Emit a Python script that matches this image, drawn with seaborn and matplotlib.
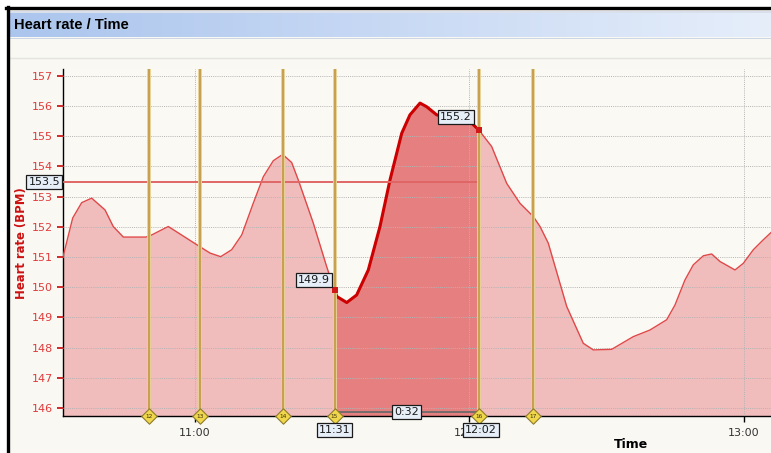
import numpy as np
import pandas as pd
import matplotlib
matplotlib.use("Agg")
import matplotlib.pyplot as plt
import matplotlib.patheffects as pe
from matplotlib.colors import LinearSegmentedColormap
import seaborn as sns

# ---------------- data ----------------
times = ["10:31:09", "10:33:16", "10:35:14", "10:37:25", "10:40:20", "10:42:08",
         "10:44:20", "10:49:17", "10:50:32", "10:54:10", "11:01:05", "11:03:17",
         "11:05:37", "11:08:01", "11:10:13", "11:12:44", "11:14:56", "11:17:07",
         "11:19:10", "11:21:08", "11:22:35", "11:25:52", "11:28:47", "11:30:30",
         "11:31:00", "11:33:10", "11:35:20", "11:37:53", "11:40:26", "11:42:37",
         "11:45:11", "11:46:59", "11:49:11", "11:50:38", "11:52:50", "12:00:07",
         "12:02:05", "12:04:51", "12:08:08", "12:11:02", "12:13:57", "12:15:25",
         "12:17:13", "12:21:15", "12:24:52", "12:27:04", "12:31:05", "12:35:48",
         "12:39:27", "12:43:06", "12:44:55", "12:47:06", "12:48:55", "12:51:07",
         "12:52:56", "12:54:45", "12:58:02", "12:59:51", "13:02:02", "13:04:13",
         "13:05:54"]
heart_rate = [151.0, 152.29, 152.80, 152.95, 152.56, 152.01,
              151.66, 151.66, 151.73, 152.01, 151.34, 151.13,
              151.01, 151.24, 151.73, 152.78, 153.66, 154.19,
              154.40, 154.13, 153.55, 152.12, 150.68, 149.9,
              149.69, 149.49, 149.74, 150.57, 152.01, 153.55,
              155.10, 155.71, 156.10, 155.98, 155.71, 155.49,
              155.2, 154.66, 153.44, 152.78, 152.34, 152.01,
              151.46, 149.36, 148.14, 147.92, 147.94, 148.36,
              148.58, 148.92, 149.41, 150.24, 150.74, 151.04,
              151.10, 150.85, 150.57, 150.79, 151.24, 151.57,
              151.81]

lap_times = ["10:49:57", "11:01:06", "11:19:14", "11:30:30", "12:02:05", "12:13:53"]
lap_numbers = ["12", "13", "14", "15", "16", "17"]

sel_start = "11:30:30"
sel_end = "12:02:05"
sel_start_hr = 149.9
sel_end_hr = 155.2
sel_avg = 153.5
sel_start_label = "11:31"
sel_end_label = "12:02"
sel_duration = "0:32"

x_tick_labels = ["11:00", "12:00", "13:00"]
y_ticks = [146, 147, 148, 149, 150, 151, 152, 153, 154, 155, 156, 157]

title = "Heart rate / Time"
y_label = "Heart rate (BPM)"
x_label = "Time"


def to_min(s):
    parts = [int(p) for p in s.split(":")]
    if len(parts) == 2:
        parts.append(0)
    h, m, sec = parts
    return h * 60 + m + sec / 60.0


df = pd.DataFrame({"t": [to_min(t) for t in times], "hr": heart_rate})
t0, t1 = to_min(sel_start), to_min(sel_end)
sel = df[(df.t >= t0 - 1e-9) & (df.t <= t1 + 1e-9)]
lap_x = [to_min(t) for t in lap_times]
xt = [to_min(t) for t in x_tick_labels]

XMIN, XMAX = 631.15, 785.9
YMIN, YMAX = 145.73, 157.23

# ---------------- figure ----------------
W, H = 771, 453
fig = plt.figure(figsize=(W / 100, H / 100), dpi=100)
fig.patch.set_facecolor("white")

bg = fig.add_axes([0, 0, 1, 1], zorder=0)
bg.set_xlim(0, W)
bg.set_ylim(H, 0)
bg.axis("off")
bg.add_patch(plt.Rectangle((9, 10), W - 9, H - 10, fc="#f9f8f3", ec="none"))
grad = np.linspace(0, 1, 256).reshape(1, -1)
cm = LinearSegmentedColormap.from_list("hdr", ["#abc5ed", "#c8d9f4", "#e6eefa"])
bg.imshow(grad, cmap=cm, extent=(10, W, 37, 13), aspect="auto", zorder=1)
bg.plot([10, W], [12, 12], color="#d3dcea", lw=1.2, zorder=2)
bg.plot([10, W], [37.5, 37.5], color="#c4d0e2", lw=0.6, zorder=2)
bg.plot([9, W], [57.5, 57.5], color="#e4e4e0", lw=1.0, zorder=2)
bg.plot([6, W], [8, 8], color="black", lw=2.4, zorder=3)
bg.plot([7.5, 7.5], [7, H], color="black", lw=2.4, zorder=3)
bg.text(14, 25, title, fontsize=10.5, fontweight="bold", family="Liberation Sans",
        ha="left", va="center", color="black", zorder=4)

ax = fig.add_axes([63 / W, 1 - 416 / H, (W - 63) / W, (416 - 69) / H], zorder=1)
ax.set_facecolor("#faf9f4")

# main area
ax.fill_between(df.t, df.hr, YMIN, color="#f0bcbc", lw=0, zorder=1)
ax.fill_between(sel.t, sel.hr, YMIN, color="#e68080", lw=0, zorder=1.2)
sns.lineplot(x=df.t, y=df.hr, ax=ax, color="#e04848", lw=1.0, sort=False,
             estimator=None, zorder=3)
sns.lineplot(x=sel.t, y=sel.hr, ax=ax, color="#cc0000", lw=2.2, sort=False,
             estimator=None, zorder=3.2)

ax.set_xlim(XMIN, XMAX)
ax.set_ylim(YMIN, YMAX)
ax.set_xlabel("")
ax.set_ylabel("")

# grid
ax.set_yticks(y_ticks)
ax.set_xticks(xt)
ax.set_xticklabels(x_tick_labels)
ax.set_axisbelow(False)
ax.grid(True, ls=(0, (1, 1.2)), color="#b4b4b4", lw=0.7)

for s in ["top", "right"]:
    ax.spines[s].set_visible(False)
ax.spines["left"].set_color("black")
ax.spines["bottom"].set_color("black")
ax.spines["left"].set_linewidth(1.0)
ax.spines["bottom"].set_linewidth(1.0)

ax.tick_params(axis="y", colors="#d02a2a", labelcolor="#e03a3a", length=4, width=1.4,
               pad=3, labelsize=8)
ax.tick_params(axis="x", colors="black", labelcolor="#333333", length=4, width=1,
               pad=5, labelsize=8)

# selection helpers
ax.hlines(sel_avg, XMIN, t1, color="#e06666", lw=1.4, zorder=3.5)
ax.vlines(t0, YMIN, sel_avg, color="#8a8a8a", ls=(0, (1, 1)), lw=0.8, zorder=3.4)
ax.hlines(145.86, t0, t1, color="#6a6a6a", lw=1.3, zorder=3.6)

# laps
for x in lap_x:
    ax.axvline(x, color="#c49c4a", lw=1.3, zorder=4,
               path_effects=[pe.Stroke(linewidth=2.8, foreground="#e8d196"), pe.Normal()])
ax.scatter(lap_x, [YMIN] * len(lap_x), marker="D", s=62, c="#f0d64a",
           edgecolors="#8d7b2c", linewidths=0.8, zorder=6, clip_on=False)
for x, n in zip(lap_x, lap_numbers):
    ax.text(x, YMIN, n, fontsize=4.2, ha="center", va="center", color="#3a3010",
            zorder=7, clip_on=False)

ax.scatter([t0, t1], [sel_start_hr, sel_end_hr], marker="s", s=14, c="#d01818",
           zorder=6, linewidths=0)

box = dict(boxstyle="square,pad=0.18", fc="#e6eef8", ec="#1a1a1a", lw=0.9)
kw = dict(fontsize=8, color="#1a1a1a", bbox=box, zorder=8, annotation_clip=False,
          textcoords="offset pixels")
ax.annotate(f"{sel_start_hr:.1f}", xy=(t0, sel_start_hr), xytext=(-5, 10),
            ha="right", va="center", **kw)
ax.annotate(f"{sel_end_hr:.1f}", xy=(t1, sel_end_hr), xytext=(-7, 13),
            ha="right", va="center", **kw)
ax.annotate(f"{sel_avg:.1f}", xy=(0, sel_avg), xycoords=("axes fraction", "data"),
            xytext=(-3, 0), ha="right", va="center", **kw)
ax.annotate(sel_duration, xy=((t0 + t1) / 2, 145.86), xytext=(0, 0),
            ha="center", va="center", **kw)
ax.annotate(sel_start_label, xy=(t0, YMIN), xytext=(0, -14),
            ha="center", va="center", **kw)
ax.annotate(sel_end_label, xy=(t1, YMIN), xytext=(2, -14),
            ha="center", va="center", **kw)

fig.text(22 / W, 1 - 243 / H, y_label, rotation=90, ha="center", va="center",
         fontsize=8.4, fontweight="bold", color="#cc1111")
fig.text(631 / W, 1 - 445 / H, x_label, ha="center", va="center",
         fontsize=9, fontweight="bold", color="black")

fig.savefig("out.png", dpi=100)
